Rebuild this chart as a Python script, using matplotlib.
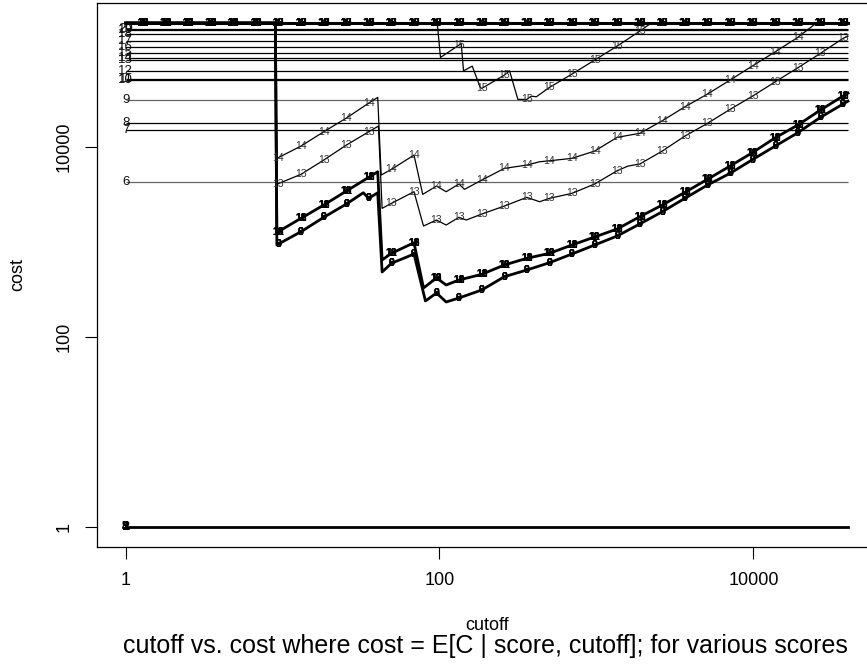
import numpy as np
import matplotlib
matplotlib.use('Agg')
import matplotlib.pyplot as plt

plt.rcParams['font.family'] = ['Liberation Sans', 'DejaVu Sans']

# ---------------- data ----------------
x_max = 40080
top_cost = 203300

# cutoffs at which the curve labels are printed
label_cut = [1.29, 1.80, 2.50, 3.49, 4.86, 6.77, 9.42, 13.1, 18.3, 25.5, 35.4, 49.4,
             68.8, 95.7, 133, 186, 259, 360, 502, 698, 973, 1354, 1887, 2627, 3660,
             5095, 7100, 9883, 13770, 19170, 26720, 37190]

# constant scores (label printed at cutoff = 1)
h_scores = ['20', '19', '18', '17', '16', '15', '14', '13', '12', '11', '10', '9', '8', '7', '6']
h_cost = [173300, 170300, 153500, 131400, 113600, 96770, 85750, 82290, 63460,
          52530, 51270, 31190, 17730, 15070, 4300]
h_gray = ['9', '6']
low_scores = ['1', '2', '3', '4', '5']
low_cost = 1

# score 14
c14_cut = [1, 9.0, 9.2, 9.42, 13.1, 18.3, 25.5, 35.4, 40.4, 42.5, 49.4, 68.8, 78.2, 95.7,
           110.3, 133, 144.3, 186, 259, 360, 434.5, 502, 698, 973, 1354, 1630, 1887, 2627,
           3660, 5095, 7100, 9883, 13770, 19170, 25310, 40080]
c14_cost = [203300, 203300, 7640, 7735, 10220, 14460, 20160, 29000, 33300, 5060, 5810, 8215,
            3168, 3874, 3375, 4068, 3577, 4481, 5950, 6447, 6986, 7157, 7586, 9055, 12620,
            13350, 13910, 18880, 26510, 36070, 50650, 71660, 100600, 142700, 203300, 203300]

# score 13
c13_cut = [1, 9.0, 9.2, 9.42, 13.1, 18.3, 25.5, 35.4, 40.8, 43.1, 49.4, 68.8, 79.1, 95.7,
           110.3, 133, 148.1, 186, 259, 360, 434.5, 502, 698, 973, 1354, 1590, 1887, 2627,
           3660, 5095, 7100, 9883, 13770, 19170, 26720, 37190, 40080]
c13_cost = [203300, 203300, 4068, 4117, 5146, 7278, 10470, 14460, 16600, 2256, 2547, 3375,
            1469, 1699, 1505, 1814, 1699, 1965, 2386, 2946, 2648, 2876, 3246, 4068, 5615,
            6294, 6607, 9055, 13030, 17730, 24890, 34370, 48610, 68270, 96770, 139200, 147200]

# score 15
c15_cut = [1, 96.7, 101.5, 133, 137.5, 142.3, 161.7, 181.8, 186, 259, 279.6, 315.9, 360,
           384.6, 414.0, 502, 698, 973, 1354, 1887, 2242, 40080]
c15_cost = [203300, 203300, 87860, 118400, 123400, 63460, 71120, 42430, 41420, 57180, 63460,
            31710, 31710, 34370, 33790, 42430, 58600, 82290, 115500, 166200, 203300, 203300]

# scores 10-12 (overlapping, upper thick curve)
cU_cut = [1, 9.0, 9.2, 9.42, 13.1, 18.3, 25.5, 35.4, 40.4, 43.1, 49.4, 68.8, 79.1, 95.7,
          110.3, 133, 186, 259, 360, 502, 698, 973, 1354, 1887, 2627, 3660, 5095, 7100,
          9883, 13770, 19170, 26720, 37190, 40080]
cU_cost = [203300, 203300, 1270, 1285, 1770, 2444, 3432, 4786, 5481, 644, 757.5, 979.5,
           326.6, 416.3, 351.2, 396.5, 455.2, 570.5, 671.0, 757.5, 926.4, 1125, 1366, 1840,
           2444, 3326, 4558, 6294, 8730, 12500, 17010, 24470, 34370, 36960]

# scores 6-9 (overlapping, lower thick curve)
cL_cut = [1, 9.0, 9.2, 9.42, 13.1, 18.3, 25.5, 32.7, 35.4, 40.4, 43.1, 49.4, 68.8, 81.4,
          95.7, 110.3, 133, 186, 259, 360, 502, 698, 973, 1354, 1887, 2627, 3660, 5095,
          7100, 9883, 13770, 19170, 26720, 37190, 40080]
cL_cost = [203300, 203300, 926.4, 949.3, 1279, 1814, 2504, 3294, 2876, 3294, 481.4, 594.5,
           744.7, 238.3, 289.3, 232.5, 256.2, 311.1, 429.5, 505.1, 603.2, 744.7, 926.4, 1152,
           1542, 2078, 2876, 3969, 5272, 7368, 10220, 14110, 20510, 28300, 30430]

top_blob_early = ['16', '12', '13', '14', '8', '18', '20', '10']
top_blob_late = ['16', '18', '20', '17', '19']
U_blob = ['12', '10', '11', '18']
L_blob = ['8', '6', '9', '0']

# ---------------- figure ----------------
W, H = 867, 670
fig = plt.figure(figsize=(W / 100, H / 100), dpi=100)
ax = fig.add_axes([96.7 / W, (H - 546.7) / H, (876.9 - 96.7) / W, (546.7 - 2.7) / H])
ax.set_xscale('log')
ax.set_yscale('log')
lx0, lx1 = 0.0, np.log10(x_max)
ly0, ly1 = np.log10(low_cost), np.log10(top_cost)
ex, ey = 0.04 * (lx1 - lx0), 0.04 * (ly1 - ly0)
ax.set_xlim(10 ** (lx0 - ex), 10 ** (lx1 + ex))
ax.set_ylim(10 ** (ly0 - ey), 10 ** (ly1 + ey))

for s in ax.spines.values():
    s.set_linewidth(0.9)
    s.set_color('black')

ax.set_xticks([1, 100, 10000])
ax.set_xticklabels(['1', '100', '10000'])
ax.set_yticks([1, 100, 10000])
ax.set_yticklabels(['1', '100', '10000'], rotation=90, va='center')
ax.minorticks_off()
ax.tick_params(direction='out', length=8.4, width=0.8, labelsize=13, pad=10)
ax.tick_params(axis='y', pad=9)

lab_kw = dict(ha='center', va='center', clip_on=False)

# constant lines
for s, c in zip(h_scores, h_cost):
    col = '#666666' if s in h_gray else 'black'
    ax.plot([1, x_max], [c, c], color=col, lw=0.9, solid_capstyle='butt')
    ax.text(1, c, s, fontsize=9.5, color='#111111', **lab_kw)
ax.plot([1, x_max], [low_cost, low_cost], color='black', lw=2.0)
for s in low_scores:
    ax.text(1, low_cost, s, fontsize=9, fontweight='bold', **lab_kw)

# top line (all high scores overlapping)
ax.plot([1, x_max], [top_cost, top_cost], color='black', lw=2.2)


def draw_curve(cut, cost, lw, blob, size, color, weight='normal'):
    cut = np.asarray(cut, float)
    cost = np.asarray(cost, float)
    ax.plot(cut, cost, color='black', lw=lw, solid_joinstyle='round')
    for xv, yv in zip(cut, cost):
        if np.any(np.isclose(xv, label_cut, rtol=1e-3)) and yv < 0.95 * top_cost:
            for b in blob:
                ax.text(xv, yv, b, fontsize=size, color=color, fontweight=weight, **lab_kw)


draw_curve(c14_cut, c14_cost, 0.9, ['14'], 7.5, '#333333')
draw_curve(c13_cut, c13_cost, 0.9, ['13'], 7.5, '#333333')
draw_curve(c15_cut, c15_cost, 0.9, ['15'], 7.5, '#333333')
draw_curve(cU_cut, cU_cost, 2.0, U_blob, 7.5, 'black', 'bold')
draw_curve(cL_cut, cL_cost, 2.0, L_blob, 7.5, 'black', 'bold')

# labels on the top line
for xv in label_cut:
    blob = top_blob_early if xv < 9.0 else top_blob_late
    for b in blob:
        ax.text(xv, top_cost, b, fontsize=7.5, fontweight='bold', **lab_kw)

# axis titles
fig.text(486.8 / W, 1 - 626 / H, 'cutoff', ha='center', va='center', fontsize=13)
fig.text(485 / W, 1 - 646 / H,
         'cutoff vs. cost where cost = E[C | score, cutoff]; for various scores',
         ha='center', va='center', fontsize=18)
fig.text(18 / W, 1 - 274.7 / H, 'cost', ha='center', va='center', rotation=90, fontsize=13)

fig.savefig('out.png', dpi=100)
